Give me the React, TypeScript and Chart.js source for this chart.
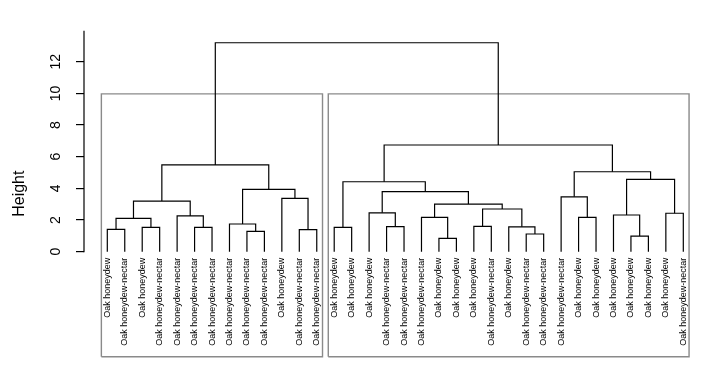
import React, { useEffect, useRef } from "react";
import { Chart, registerables } from "chart.js";

Chart.register(...registerables);

// Leaf labels in dendrogram order (left to right)
const leafLabels: string[] = [
  "Oak honeydew", "Oak honeydew-nectar", "Oak honeydew", "Oak honeydew-nectar",
  "Oak honeydew-nectar", "Oak honeydew-nectar", "Oak honeydew-nectar", "Oak honeydew-nectar",
  "Oak honeydew-nectar", "Oak honeydew-nectar", "Oak honeydew", "Oak honeydew-nectar",
  "Oak honeydew-nectar",
  "Oak honeydew", "Oak honeydew", "Oak honeydew", "Oak honeydew-nectar",
  "Oak honeydew-nectar", "Oak honeydew-nectar", "Oak honeydew", "Oak honeydew",
  "Oak honeydew", "Oak honeydew-nectar", "Oak honeydew", "Oak honeydew-nectar",
  "Oak honeydew-nectar", "Oak honeydew-nectar", "Oak honeydew", "Oak honeydew",
  "Oak honeydew", "Oak honeydew", "Oak honeydew", "Oak honeydew", "Oak honeydew-nectar",
];

// Merge table: negative = leaf position (1-based), positive = earlier merge number (1-based)
const mergeLeft: number[] = [
  -1, -3, 1, -6, -5, 3, -9, -8, -12, -11, 8, 6,
  -14, -17, -16, -20, -19, -22, -25, -24, 18, 17, 15, 13,
  -28, -27, -31, -30, -33, 28, 26, 24, 12,
];
const mergeRight: number[] = [
  -2, -4, 2, -7, 4, 5, -10, 7, -13, 9, 10, 11,
  -15, -18, 14, -21, 16, -23, -26, 19, 20, 21, 22, 23,
  -29, 25, -32, 27, -34, 29, 30, 31, 32,
];
const mergeHeights: number[] = [
  1.41, 1.54, 2.11, 1.54, 2.26, 3.2, 1.29, 1.75, 1.39, 3.37, 3.94, 5.48,
  1.54, 1.58, 2.46, 0.84, 2.17, 1.6, 1.12, 1.57, 2.7, 3.01, 3.79, 4.42,
  2.17, 3.47, 0.99, 2.32, 2.43, 4.57, 5.05, 6.74, 13.2,
];

const yTickValues: number[] = [0, 2, 4, 6, 8, 10, 12];
const clusterFirstLeaf: number[] = [1, 14];
const clusterLastLeaf: number[] = [13, 34];

export default function App() {
  const canvasRef = useRef<HTMLCanvasElement | null>(null);

  useEffect(() => {
    if (!canvasRef.current) return;
    const nodeX: number[] = [];
    const ref = (r: number) =>
      r < 0 ? { x: -r, h: 0 } : { x: nodeX[r - 1], h: mergeHeights[r - 1] };

    const datasets: any[] = [];
    for (let i = 0; i < mergeHeights.length; i++) {
      const a = ref(mergeLeft[i]);
      const b = ref(mergeRight[i]);
      const h = mergeHeights[i];
      nodeX[i] = (a.x + b.x) / 2;
      datasets.push({
        data: [
          { x: a.x, y: a.h },
          { x: a.x, y: h },
          { x: b.x, y: h },
          { x: b.x, y: b.h },
        ],
        showLine: true,
        borderColor: "#000000",
        borderWidth: 1.2,
        pointRadius: 0,
        tension: 0,
        fill: false,
      });
    }

    const yMin = -6.63;
    const yMax = 13.96;
    const sorted = [...mergeHeights].sort((p, q) => q - p);
    const cut = (sorted[0] + sorted[1]) / 2;
    for (let k = 0; k < clusterFirstLeaf.length; k++) {
      const x0 = clusterFirstLeaf[k] - 0.34;
      const x1 = clusterLastLeaf[k] + 0.33;
      datasets.push({
        data: [
          { x: x0, y: yMin },
          { x: x0, y: cut },
          { x: x1, y: cut },
          { x: x1, y: yMin },
          { x: x0, y: yMin },
        ],
        showLine: true,
        borderColor: "#8a8a8a",
        borderWidth: 1.4,
        pointRadius: 0,
        tension: 0,
        fill: false,
        clip: false,
      });
    }

    const leafLabelPlugin = {
      id: "leafLabels",
      afterDatasetsDraw(chart: any) {
        const ctx = chart.ctx;
        const xs = chart.scales.x;
        const ys = chart.scales.y;
        const y0 = ys.getPixelForValue(0) + 6;
        ctx.save();
        ctx.font = '9px "Liberation Sans", Arial, sans-serif';
        ctx.fillStyle = "#000";
        ctx.textAlign = "right";
        ctx.textBaseline = "middle";
        leafLabels.forEach((lab, i) => {
          const x = xs.getPixelForValue(i + 1);
          ctx.save();
          ctx.translate(x, y0);
          ctx.rotate(-Math.PI / 2);
          ctx.fillText(lab, 0, 0);
          ctx.restore();
        });
        // y axis line from 0 up to top of plot region
        const ax = chart.chartArea.left;
        ctx.strokeStyle = "#000";
        ctx.lineWidth = 1.2;
        ctx.beginPath();
        ctx.moveTo(ax, ys.getPixelForValue(0) + 0.5);
        ctx.lineTo(ax, chart.chartArea.top);
        ctx.stroke();
        ctx.restore();
      },
    };

    const chart = new Chart(canvasRef.current, {
      type: "scatter",
      data: { datasets },
      options: {
        animation: false,
        responsive: true,
        maintainAspectRatio: false,
        layout: { padding: { top: 22.7, bottom: 21.3, left: 0, right: 0 } },
        plugins: { legend: { display: false }, tooltip: { enabled: false } },
        scales: {
          x: { type: "linear", display: false, min: -0.335, max: 34.842 },
          y: {
            type: "linear",
            min: yMin,
            max: yMax,
            afterBuildTicks: (s: any) => {
              s.ticks = yTickValues.map((v) => ({ value: v }));
            },
            afterFit: (s: any) => {
              s.width = 76;
            },
            border: { display: false },
            grid: {
              drawOnChartArea: false,
              drawTicks: true,
              tickLength: 8,
              color: "#000",
              lineWidth: 1.2,
            },
            ticks: {
              minRotation: 90,
              maxRotation: 90,
              crossAlign: "center",
              padding: 12,
              color: "#000",
              font: { family: '"Liberation Sans", Arial, sans-serif', size: 14 },
            },
            title: {
              display: true,
              text: "Height",
              color: "#000",
              font: { family: '"Liberation Sans", Arial, sans-serif', size: 16 },
              padding: { top: 2, bottom: 0 },
            },
          },
        },
      } as any,
      plugins: [leafLabelPlugin],
    });
    return () => chart.destroy();
  }, []);

  return (
    <div style={{ position: "relative", width: 690, height: 370 }}>
      <canvas ref={canvasRef} />
    </div>
  );
}
